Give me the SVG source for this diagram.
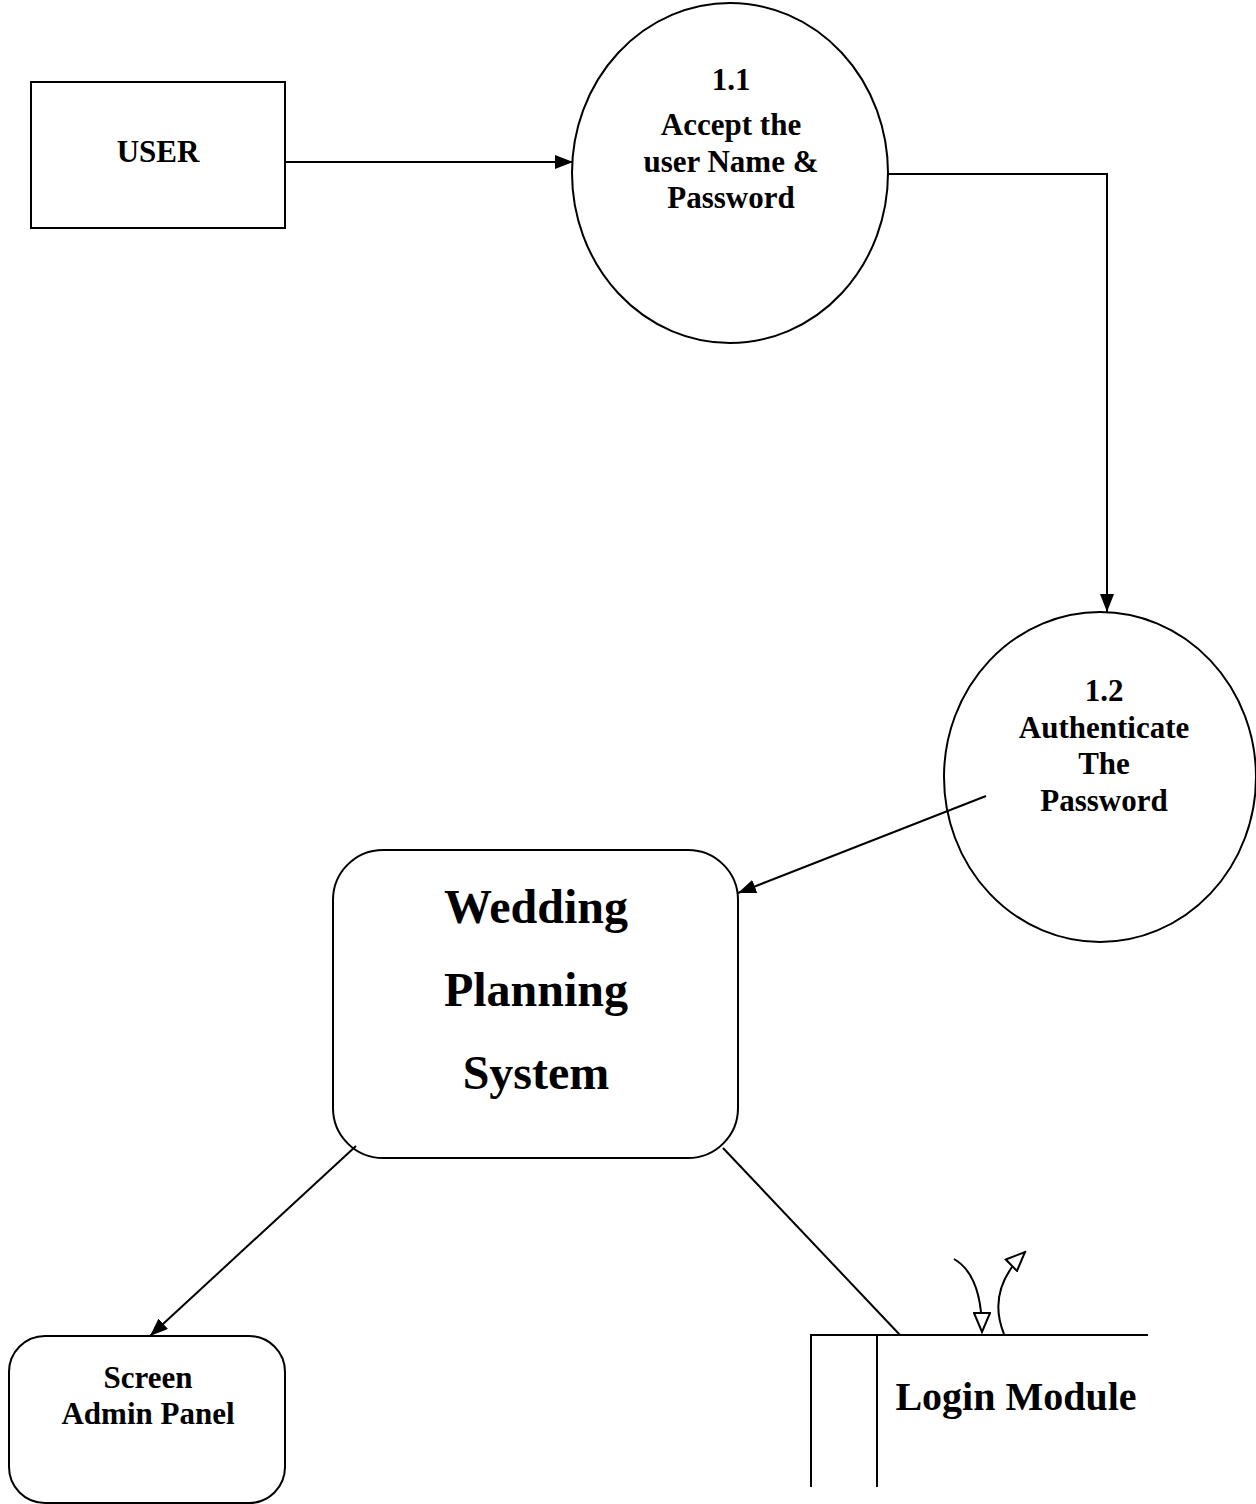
<svg xmlns="http://www.w3.org/2000/svg" width="1256" height="1504" viewBox="0 0 1256 1504">
<style>
.s{fill:none;stroke:#000;stroke-width:2}
text{font-family:'Liberation Serif','Times New Roman',Times,serif;font-weight:700;fill:#000;text-anchor:middle}
</style>
<defs>
<marker id="a" viewBox="0 0 18 14" refX="18" refY="7" markerWidth="18" markerHeight="14" markerUnits="userSpaceOnUse" orient="auto"><path d="M0,0L18,7L0,14z" fill="#000"/></marker>
<marker id="o" viewBox="0 0 22 18" refX="20" refY="9" markerWidth="22" markerHeight="18" markerUnits="userSpaceOnUse" orient="auto"><path d="M1,1L20,9L1,17z" fill="#fff" stroke="#000" stroke-width="2"/></marker>
</defs>
<rect width="1256" height="1504" fill="#fff"/>
<g id="user"><rect class="s" x="31" y="82" width="254" height="146"/><text x="158" y="162" font-size="31">USER</text></g>
<g id="p11"><ellipse class="s" cx="730" cy="173" rx="158" ry="170"/>
<text font-size="31"><tspan x="731" y="90">1.1</tspan><tspan x="731" y="135">Accept the</tspan><tspan x="731" y="172">user Name &amp;</tspan><tspan x="731" y="208">Password</tspan></text></g>
<g id="p12"><ellipse class="s" cx="1100" cy="777" rx="156" ry="165"/>
<text font-size="31"><tspan x="1104" y="701">1.2</tspan><tspan x="1104" y="738">Authenticate</tspan><tspan x="1104" y="774">The</tspan><tspan x="1104" y="811">Password</tspan></text></g>
<g id="wps"><rect class="s" x="333" y="850" width="405" height="308" rx="50"/>
<text font-size="48"><tspan x="536" y="923">Wedding</tspan><tspan x="536" y="1006">Planning</tspan><tspan x="536" y="1089">System</tspan></text></g>
<g id="screen"><rect class="s" x="9" y="1336" width="276" height="167" rx="36"/>
<text font-size="31"><tspan x="148" y="1388">Screen</tspan><tspan x="148" y="1424">Admin Panel</tspan></text></g>
<g id="login"><path class="s" d="M810,1335H1148M811,1335V1487M877,1335V1487"/>
<text x="1016" y="1410" font-size="40">Login Module</text></g>
<g id="connectors">
<path class="s" d="M285,162H573" marker-end="url(#a)"/>
<path class="s" d="M888,174H1107V612" marker-end="url(#a)"/>
<path class="s" d="M986,796L738,893" marker-end="url(#a)"/>
<path class="s" d="M356,1146L150,1336" marker-end="url(#a)"/>
<path class="s" d="M723,1148L900,1335" stroke-width="1.5"/>
<path class="s" d="M954,1259Q982,1275 982,1332" marker-end="url(#o)"/>
<path class="s" d="M1004,1334Q986,1290 1025,1252" marker-end="url(#o)"/>
</g>
</svg>
